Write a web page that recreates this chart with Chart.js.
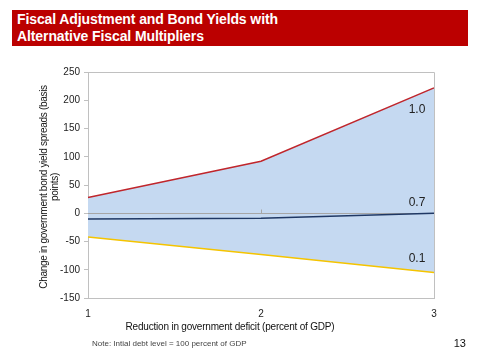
<!DOCTYPE html>
<html>
<head>
<meta charset="utf-8">
<script src="https://cdn.jsdelivr.net/npm/chart.js@4.4.1/dist/chart.umd.min.js"></script>
<style>
  body { margin: 0; background: #fff; font-family: Arial, "Liberation Sans", sans-serif; }
  #wrap { position: relative; width: 480px; height: 360px; overflow: hidden; }
  #chart { position: absolute; left: 0; top: 0; }
  .titlebar { position: absolute; left: 12px; top: 10px; width: 456px; height: 36px; background: #bb0000; }
  .titlebar div { position: absolute; left: 5px; color: #fff; font-weight: bold; font-size: 14px; line-height: 17px; top: 1px; letter-spacing: -0.1px; }
  .ytitle { position: absolute; left: 49px; top: 187px; width: 210px; transform: translate(-50%, -50%) rotate(-90deg);
            text-align: center; font-size: 10px; line-height: 11px; color: #111; letter-spacing: -0.3px; }
  .xtitle { position: absolute; left: 230px; top: 321px; transform: translateX(-50%); font-size: 10px; color: #111; white-space: nowrap; letter-spacing: -0.2px; }
  .note { position: absolute; left: 92px; top: 339px; font-size: 8px; color: #444; }
  .page { position: absolute; right: 14px; top: 337px; font-size: 11px; color: #111; }
</style>
</head>
<body>
<div id="wrap">
  <canvas id="chart" width="480" height="360"></canvas>
  <div class="titlebar"><div>Fiscal Adjustment and Bond Yields with<br>Alternative Fiscal Multipliers</div></div>
  <div class="ytitle">Change in government bond yield spreads (basis points)</div>
  <div class="xtitle">Reduction in government deficit (percent of GDP)</div>
  <div class="note">Note: Intial debt level = 100 percent of GDP</div>
  <div class="page">13</div>
</div>
<script>
var deficitCuts = ["1", "2", "3"];
var multiplier10 = [28, 92, 222];
var multiplier07 = [-10, -9, 0];
var multiplier01 = [-42, -73, -105];
var seriesNames = ["1.0", "0.7", "0.1"];
var yTicks = [-150, -100, -50, 0, 50, 100, 150, 200, 250];

// zero line over the shaded band, box round the plot, end labels
var extras = {
    id: 'extras',
    beforeDatasetsDraw: function (chart) {
        var ctx = chart.ctx;
        var a = chart.chartArea;
        var y0 = Math.round(chart.scales.y.getPixelForValue(0)) + 0.5;
        ctx.save();
        ctx.strokeStyle = '#a6a6a6';
        ctx.lineWidth = 1;
        ctx.beginPath();
        ctx.moveTo(a.left, y0);
        ctx.lineTo(a.right, y0);
        var x2 = Math.round(chart.scales.x.getPixelForValue(1)) + 0.5;
        ctx.moveTo(x2, y0);
        ctx.lineTo(x2, y0 - 4);
        ctx.stroke();
        ctx.restore();
    },
    afterDraw: function (chart) {
        var ctx = chart.ctx;
        var a = chart.chartArea;
        ctx.save();
        ctx.strokeStyle = '#c0c0c0';
        ctx.lineWidth = 1;
        ctx.beginPath();
        ctx.moveTo(a.left, a.top + 0.5);
        ctx.lineTo(a.right + 0.5, a.top + 0.5);
        ctx.lineTo(a.right + 0.5, a.bottom);
        ctx.stroke();
        var x = chart.scales.x.getPixelForValue(2) - 17;
        var y = chart.scales.y;
        ctx.fillStyle = '#222';
        ctx.font = '12px Arial';
        ctx.textAlign = 'center';
        ctx.textBaseline = 'middle';
        ctx.fillText(seriesNames[0], x, y.getPixelForValue(multiplier10[2]) + 22);
        ctx.fillText(seriesNames[1], x, y.getPixelForValue(multiplier07[2]) - 11);
        ctx.fillText(seriesNames[2], x, y.getPixelForValue(multiplier01[2]) - 14);
        ctx.restore();
    }
};

var ctx = document.getElementById("chart").getContext("2d");
var chart = new Chart(ctx, {
    type: "line",
    data: {
        labels: deficitCuts,
        datasets: [{
            label: seriesNames[0],
            data: multiplier10,
            borderColor: "#c0262c",
            borderWidth: 1.5,
            backgroundColor: "#c5d9f1",
            fill: 2,
            pointRadius: 0,
            tension: 0
        }, {
            label: seriesNames[1],
            data: multiplier07,
            borderColor: "#1f3864",
            borderWidth: 1.5,
            fill: false,
            pointRadius: 0,
            tension: 0
        }, {
            label: seriesNames[2],
            data: multiplier01,
            borderColor: "#f5c400",
            borderWidth: 1.5,
            fill: false,
            pointRadius: 0,
            tension: 0
        }]
    },
    options: {
        responsive: false,
        animation: false,
        layout: { padding: { top: 72, right: 46, left: 0, bottom: 0 } },
        plugins: {
            legend: { display: false },
            tooltip: { enabled: false },
            filler: { drawTime: 'beforeDatasetsDraw' }
        },
        scales: {
            x: {
                offset: false,
                grid: { display: false },
                border: { color: '#c0c0c0' },
                ticks: { color: '#222', font: { size: 10, family: 'Arial' }, padding: 2, maxRotation: 0 },
                afterFit: function (scale) { scale.height = 62; }
            },
            y: {
                min: -150,
                max: 250,
                afterBuildTicks: function (scale) {
                    scale.ticks = yTicks.map(function (v) { return { value: v }; });
                },
                grid: {
                    color: 'rgba(0,0,0,0)',
                    tickColor: '#c0c0c0',
                    tickLength: 4,
                    lineWidth: 1
                },
                border: { color: '#c0c0c0' },
                ticks: { color: '#222', font: { size: 10, family: 'Arial' }, padding: 4 },
                afterFit: function (scale) { scale.width = 88; }
            }
        }
    },
    plugins: [extras]
});
</script>
</body>
</html>
